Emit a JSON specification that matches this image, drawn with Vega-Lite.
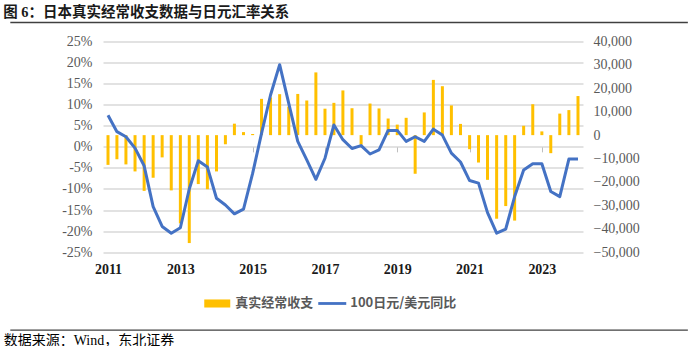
{
  "$schema": "https://vega.github.io/schema/vega-lite/v6.json",
  "padding": {"top": 4.5, "left": 3, "right": 5, "bottom": 0},
  "background": "white",
  "config": {"view": {"stroke": null}},
  "width": 480,
  "height": 210.7,
  "title": {
    "text": "图 6：日本真实经常收支数据与日元汇率关系",
    "anchor": "start",
    "frame": "group",
    "dx": -99.75,
    "font": "Liberation Serif, Noto Sans CJK SC",
    "fontSize": 14.5,
    "fontWeight": "bold",
    "color": "#1a1a1a",
    "offset": 1
  },
  "data": {
    "values": [
      {"d": "2011-01-01", "ca": -12700, "fx": 7.5},
      {"d": "2011-04-01", "ca": -10300, "fx": 3.6},
      {"d": "2011-07-01", "ca": -12500, "fx": 2.4},
      {"d": "2011-10-01", "ca": -15500, "fx": -0.3},
      {"d": "2012-01-01", "ca": -23800, "fx": -4.5},
      {"d": "2012-04-01", "ca": -18200, "fx": -14.2},
      {"d": "2012-07-01", "ca": -9500, "fx": -18.9},
      {"d": "2012-10-01", "ca": -23600, "fx": -20.5},
      {"d": "2013-01-01", "ca": -37700, "fx": -19.2},
      {"d": "2013-04-01", "ca": -46100, "fx": -10.0},
      {"d": "2013-07-01", "ca": -20900, "fx": -3.3},
      {"d": "2013-10-01", "ca": -23100, "fx": -4.8},
      {"d": "2014-01-01", "ca": -15500, "fx": -12.2},
      {"d": "2014-04-01", "ca": -3900, "fx": -13.8},
      {"d": "2014-07-01", "ca": 4900, "fx": -15.9},
      {"d": "2014-10-01", "ca": 1300, "fx": -14.8},
      {"d": "2015-01-01", "ca": 500, "fx": -6.3},
      {"d": "2015-04-01", "ca": 15500, "fx": 3.2},
      {"d": "2015-07-01", "ca": 16100, "fx": 12.3},
      {"d": "2015-10-01", "ca": 17500, "fx": 19.5},
      {"d": "2016-01-01", "ca": 12200, "fx": 10.3},
      {"d": "2016-04-01", "ca": 17600, "fx": 1.3},
      {"d": "2016-07-01", "ca": 14800, "fx": -3.1},
      {"d": "2016-10-01", "ca": 26800, "fx": -7.7},
      {"d": "2017-01-01", "ca": 11300, "fx": -2.7},
      {"d": "2017-04-01", "ca": 13800, "fx": 5.2},
      {"d": "2017-07-01", "ca": 19100, "fx": 1.7},
      {"d": "2017-10-01", "ca": 11500, "fx": -0.4},
      {"d": "2018-01-01", "ca": -4100, "fx": 0.3},
      {"d": "2018-04-01", "ca": 13500, "fx": -1.7},
      {"d": "2018-07-01", "ca": 11400, "fx": -0.7},
      {"d": "2018-10-01", "ca": 7100, "fx": 3.9},
      {"d": "2019-01-01", "ca": 4500, "fx": 3.9},
      {"d": "2019-04-01", "ca": 7400, "fx": 1.3},
      {"d": "2019-07-01", "ca": -16500, "fx": 2.4},
      {"d": "2019-10-01", "ca": 9700, "fx": 1.3},
      {"d": "2020-01-01", "ca": 23600, "fx": 4.2},
      {"d": "2020-04-01", "ca": 20900, "fx": 2.8},
      {"d": "2020-07-01", "ca": 12700, "fx": -1.5},
      {"d": "2020-10-01", "ca": 4800, "fx": -3.6},
      {"d": "2021-01-01", "ca": -6000, "fx": -8.0},
      {"d": "2021-04-01", "ca": -11700, "fx": -8.6},
      {"d": "2021-07-01", "ca": -19100, "fx": -15.6},
      {"d": "2021-10-01", "ca": -35700, "fx": -20.5},
      {"d": "2022-01-01", "ca": -30300, "fx": -19.5},
      {"d": "2022-04-01", "ca": -36500, "fx": -11.8},
      {"d": "2022-07-01", "ca": 4000, "fx": -5.5},
      {"d": "2022-10-01", "ca": 13200, "fx": -4.0},
      {"d": "2023-01-01", "ca": 1600, "fx": -4.0},
      {"d": "2023-04-01", "ca": -7700, "fx": -10.6},
      {"d": "2023-07-01", "ca": 9200, "fx": -11.8},
      {"d": "2023-10-01", "ca": 10700, "fx": -2.9},
      {"d": "2024-01-01", "ca": 16700, "fx": -2.9}
    ]
  },
  "resolve": {"scale": {"y": "independent"}},
  "layer": [
    {
      "mark": {"type": "bar", "width": 3},
      "encoding": {
        "x": {
          "field": "d",
          "type": "temporal",
          "scale": {
            "type": "utc",
            "domain": [
              {"year": 2011, "month": 1, "date": 1, "utc": true},
              {"year": 2024, "month": 1, "date": 1, "utc": true}
            ],
            "nice": false
          },
          "axis": {
            "title": "数据来源：Wind，东北证券",
            "titleFont": "Liberation Serif, Noto Sans CJK SC",
            "titleFontSize": 14,
            "titleFontWeight": "normal",
            "titleColor": "#000000",
            "titleX": -99.75,
            "titleY": 193.65,
            "titleAlign": "left",
            "titleBaseline": "middle",
            "titleAngle": 0,
            "values": [
              {"year": 2011, "month": 1, "date": 1, "utc": true},
              {"year": 2013, "month": 1, "date": 1, "utc": true},
              {"year": 2015, "month": 1, "date": 1, "utc": true},
              {"year": 2017, "month": 1, "date": 1, "utc": true},
              {"year": 2019, "month": 1, "date": 1, "utc": true},
              {"year": 2021, "month": 1, "date": 1, "utc": true},
              {"year": 2023, "month": 1, "date": 1, "utc": true}
            ],
            "labelExpr": "utcFormat(datum.value, '%Y')",
            "offset": -105.35,
            "domain": false,
            "grid": false,
            "ticks": true,
            "tickSize": 5,
            "tickColor": "#bfbfbf",
            "tickWidth": 1,
            "labelPadding": 111,
            "labelFlush": false,
            "labelFont": "Liberation Serif",
            "labelFontSize": 14,
            "labelFontWeight": "bold",
            "labelColor": "#1a1a1a"
          }
        },
        "y": {
          "field": "ca",
          "type": "quantitative",
          "scale": {"domain": [-50000, 40000], "nice": false},
          "axis": {
            "orient": "right",
            "title": null,
            "values": [-50000, -40000, -30000, -20000, -10000, 0, 10000, 20000, 30000, 40000],
            "labelExpr": "format(datum.value, ',')",
            "grid": false,
            "domain": false,
            "ticks": false,
            "labelPadding": 10,
            "labelFont": "Liberation Serif",
            "labelFontSize": 14,
            "labelColor": "#595959"
          }
        },
        "color": {
          "datum": "真实经常收支",
          "scale": {
            "domain": ["真实经常收支", "100日元/美元同比"],
            "range": ["#FFC000", "#4472C4"]
          },
          "legend": {
            "orient": "none",
            "legendX": 100.25,
            "legendY": 248,
            "padding": 0,
            "direction": "horizontal",
            "title": null,
            "labelFont": "Noto Sans CJK SC",
            "labelFontSize": 13,
            "labelFontWeight": "bold",
            "labelColor": "#595959",
            "labelOffset": 4,
            "columnPadding": 4,
            "encode": {
              "symbols": {
                "update": {
                  "shape": {"signal": "datum.value === '真实经常收支' ? 'M-1,-0.31H1V0.31H-1Z' : 'M-1,-0.1H1V0.1H-1Z'"},
                  "size": {"signal": "datum.value === '真实经常收支' ? 676 : 784"},
                  "fill": {"scale": "color", "field": "value"},
                  "stroke": {"value": "transparent"},
                  "strokeWidth": {"value": 0},
                  "opacity": {"value": 1}
                }
              }
            }
          }
        }
      }
    },
    {
      "mark": {"type": "line", "strokeWidth": 3, "strokeJoin": "round"},
      "encoding": {
        "x": {"field": "d", "type": "temporal"},
        "y": {
          "field": "fx",
          "type": "quantitative",
          "scale": {"domain": [-25, 25], "nice": false},
          "axis": {
            "orient": "left",
            "title": null,
            "values": [-25, -20, -15, -10, -5, 0, 5, 10, 15, 20, 25],
            "labelExpr": "datum.value + '%'",
            "grid": true,
            "gridColor": "#d9d9d9",
            "gridWidth": 1.5,
            "domain": false,
            "ticks": false,
            "labelPadding": 11,
            "labelFont": "Liberation Serif",
            "labelFontSize": 14,
            "labelColor": "#595959"
          }
        },
        "color": {"datum": "100日元/美元同比"}
      }
    },
    {
      "data": {"values": [{}]},
      "mark": {"type": "rule", "color": "#404040", "strokeWidth": 1.3, "clip": false},
      "encoding": {
        "x": {
          "datum": {"year": 2008, "month": 4, "date": 19, "utc": true},
          "type": "temporal",
          "scale": {
            "type": "utc",
            "domain": [
              {"year": 2011, "month": 1, "date": 1, "utc": true},
              {"year": 2024, "month": 1, "date": 1, "utc": true}
            ],
            "nice": false
          }
        },
        "x2": {"datum": {"year": 2027, "month": 1, "date": 15, "utc": true}},
        "y": {
          "datum": 29.51,
          "type": "quantitative",
          "scale": {"domain": [-25, 25], "nice": false, "zero": false},
          "axis": null
        }
      }
    },
    {
      "data": {"values": [{}]},
      "mark": {"type": "rule", "color": "#404040", "strokeWidth": 1.3, "clip": false},
      "encoding": {
        "x": {
          "datum": {"year": 2008, "month": 4, "date": 19, "utc": true},
          "type": "temporal",
          "scale": {
            "type": "utc",
            "domain": [
              {"year": 2011, "month": 1, "date": 1, "utc": true},
              {"year": 2024, "month": 1, "date": 1, "utc": true}
            ],
            "nice": false
          }
        },
        "x2": {"datum": {"year": 2027, "month": 1, "date": 15, "utc": true}},
        "y": {
          "datum": -43.5,
          "type": "quantitative",
          "scale": {"domain": [-25, 25], "nice": false, "zero": false},
          "axis": null
        }
      }
    }
  ]
}
